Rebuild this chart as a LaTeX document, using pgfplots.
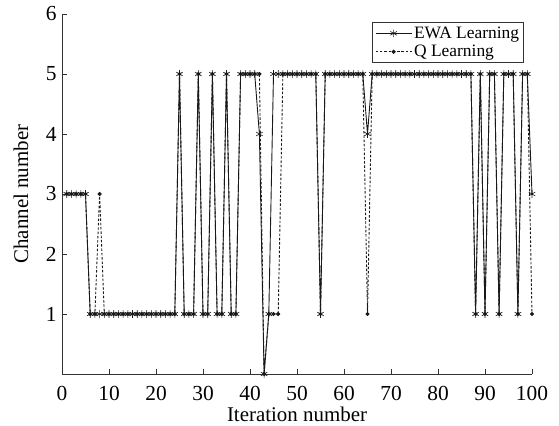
\documentclass[border=0pt]{standalone}
\usepackage{fontspec}
\setmainfont{Liberation Serif}
\usepackage{pgfplots}
\pgfplotsset{compat=1.18}

\begin{document}
\begin{tikzpicture}
\begin{axis}[
    scale only axis,
    width=470bp, height=360bp,
    xmin=0, xmax=100, ymin=0, ymax=6,
    xtick={0,10,...,100},
    ytick={1,2,3,4,5,6},
    xticklabel={\textrm{\pgfmathprintnumber[int detect, assume math mode=true]{\tick}}},
    yticklabel={\textrm{\pgfmathprintnumber[int detect, assume math mode=true]{\tick}}},
    axis x line*=bottom,
    axis y line*=left,
    axis line style={line width=1bp, black!80},
    tick style={line width=0.8bp, black!80},
    tick align=inside,
    major tick length=5bp,
    tick label style={font=\rmfamily\fontsize{21.5}{24}\selectfont},
    xticklabel style={yshift=-9bp},
    yticklabel style={xshift=-2bp},
    label style={font=\rmfamily\fontsize{21}{24}\selectfont},
    xlabel={Iteration number},
    ylabel={Channel number},
    xlabel style={at={([yshift=-40bp]axis description cs:0.5,0)}, anchor=center, inner sep=1bp},
    ylabel style={at={([xshift=-41bp]axis description cs:0,0.5)}, anchor=center},
    clip=false,
    legend style={at={(0.983,0.978)}, anchor=north east, draw=black!80,
        line width=0.8bp, font=\rmfamily\fontsize{17.5}{20}\selectfont,
        inner sep=2.5bp, row sep=1.5bp, cells={anchor=west}},
    legend cell align=left,
    legend image code/.code={
        \draw[mark repeat=2, mark phase=2, #1]
            plot coordinates {(0bp,0bp) (18bp,0bp) (36bp,0bp)};
    },
]
\addplot[black!90, line width=0.9bp, mark=asterisk, mark size=3.8bp,
    mark options={solid, line width=0.6bp}] coordinates {
(1,3) (2,3) (3,3) (4,3) (5,3) (6,1) (7,1) (8,1) (9,1) (10,1)
(11,1) (12,1) (13,1) (14,1) (15,1) (16,1) (17,1) (18,1) (19,1) (20,1)
(21,1) (22,1) (23,1) (24,1) (25,5) (26,1) (27,1) (28,1) (29,5) (30,1)
(31,1) (32,5) (33,1) (34,1) (35,5) (36,1) (37,1) (38,5) (39,5) (40,5)
(41,5) (42,4) (43,0) (44,1) (45,5) (46,5) (47,5) (48,5) (49,5) (50,5)
(51,5) (52,5) (53,5) (54,5) (55,1) (56,5) (57,5) (58,5) (59,5) (60,5)
(61,5) (62,5) (63,5) (64,5) (65,4) (66,5) (67,5) (68,5) (69,5) (70,5)
(71,5) (72,5) (73,5) (74,5) (75,5) (76,5) (77,5) (78,5) (79,5) (80,5)
(81,5) (82,5) (83,5) (84,5) (85,5) (86,5) (87,5) (88,1) (89,5) (90,1)
(91,5) (92,5) (93,1) (94,5) (95,5) (96,5) (97,1) (98,5) (99,5) (100,3)
};
\addlegendentry{EWA Learning}

\addplot[black!90, line width=0.9bp, dash pattern=on 2.5bp off 1.8bp,
    mark=*, mark size=1.6bp, mark options={solid}] coordinates {
(1,3) (2,3) (3,3) (4,3) (5,3) (6,1) (7,1) (8,3) (9,1) (10,1)
(11,1) (12,1) (13,1) (14,1) (15,1) (16,1) (17,1) (18,1) (19,1) (20,1)
(21,1) (22,1) (23,1) (24,1) (25,5) (26,1) (27,1) (28,1) (29,5) (30,1)
(31,1) (32,5) (33,1) (34,1) (35,5) (36,1) (37,1) (38,5) (39,5) (40,5)
(41,5) (42,5) (43,0) (44,1) (45,1) (46,1) (47,5) (48,5) (49,5) (50,5)
(51,5) (52,5) (53,5) (54,5) (55,1) (56,5) (57,5) (58,5) (59,5) (60,5)
(61,5) (62,5) (63,5) (64,5) (65,1) (66,5) (67,5) (68,5) (69,5) (70,5)
(71,5) (72,5) (73,5) (74,5) (75,5) (76,5) (77,5) (78,5) (79,5) (80,5)
(81,5) (82,5) (83,5) (84,5) (85,5) (86,5) (87,5) (88,1) (89,5) (90,1)
(91,5) (92,5) (93,1) (94,5) (95,5) (96,5) (97,1) (98,5) (99,5) (100,1)
};
\addlegendentry{Q Learning}
\end{axis}
\pgfresetboundingbox
\path[use as bounding box] ([shift={(-62bp,-52bp)}]current axis.south west)
    rectangle ([shift={(27bp,14bp)}]current axis.north east);
\end{tikzpicture}
\end{document}
